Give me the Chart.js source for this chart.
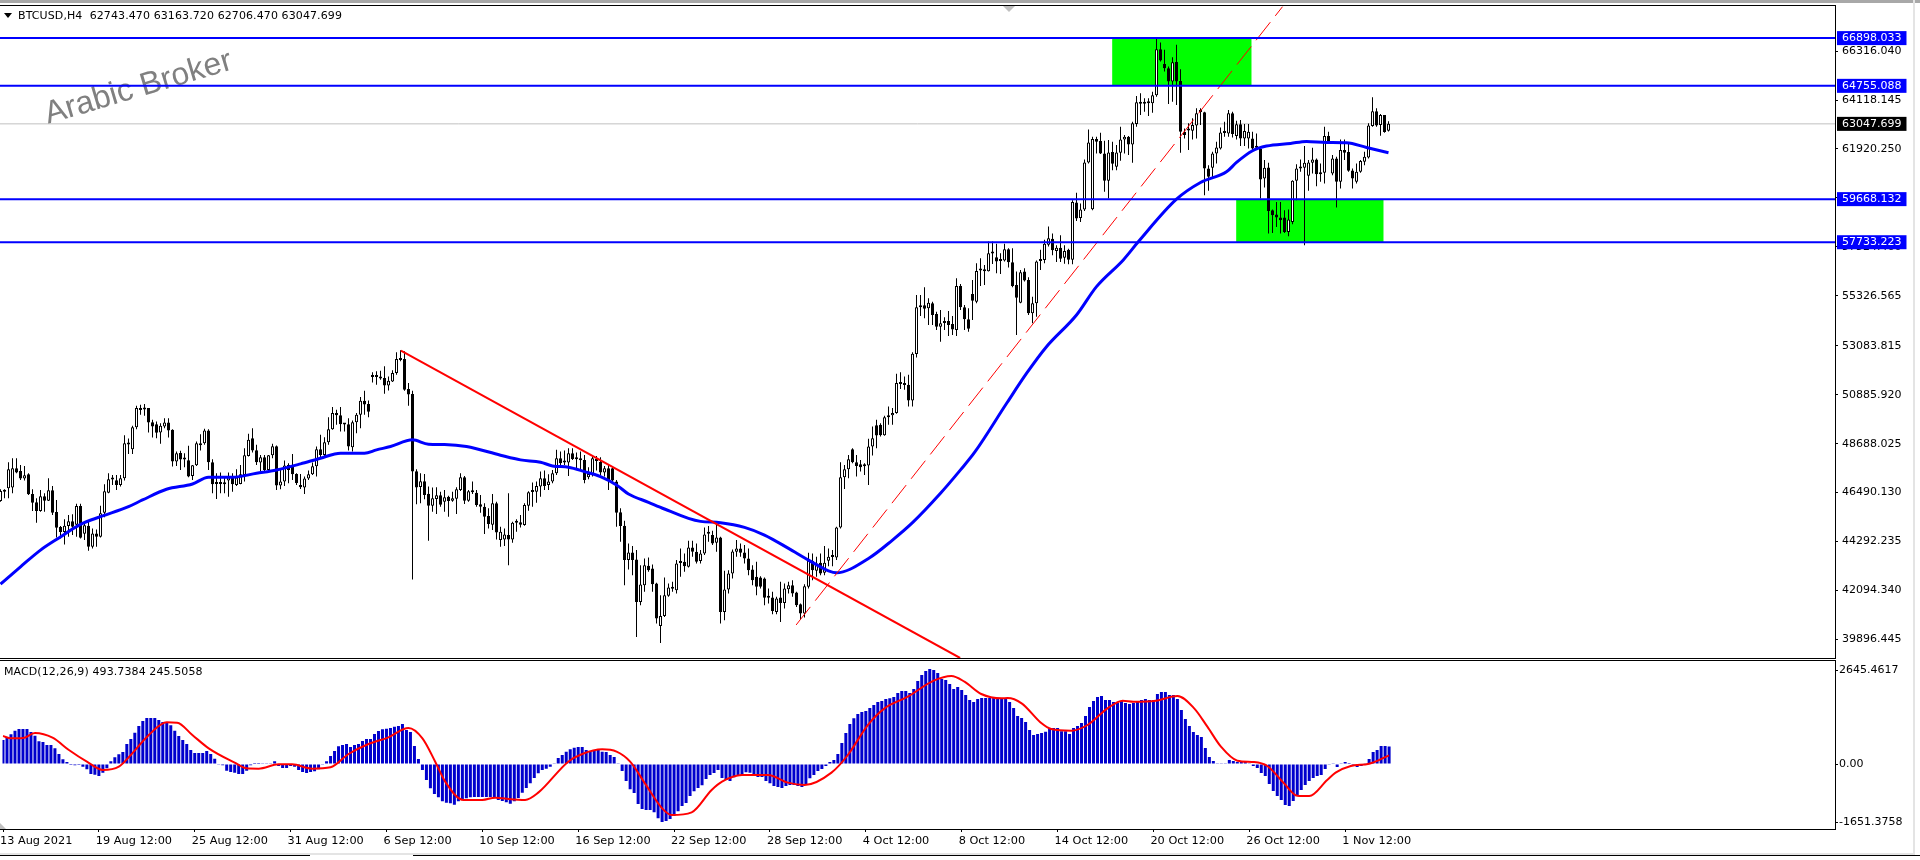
<!DOCTYPE html>
<html>
<head>
<meta charset="utf-8">
<title>BTCUSD,H4</title>
<style>
  html, body { margin: 0; padding: 0; background: #fff; overflow: hidden; }
  body { width: 1920px; height: 860px; position: relative; font-family: "DejaVu Sans", sans-serif; font-size: 11px; color: #000; }
  canvas { position: absolute; left: 0; }
  #mainChart { top: -10px; }
  #macdChart { top: 650px; }
  .label { position: absolute; white-space: pre; line-height: 13px; letter-spacing: 0.1px; }
  .strip { position: absolute; }
</style>
</head>
<body>
<div class="strip" style="left:0;top:0;width:1920px;height:3px;background:#a8a8a8"></div>
<div class="strip" style="left:1913px;top:0;width:2px;height:856px;background:#e4e4e4"></div>
<div class="strip" style="left:0;top:853px;width:1915px;height:2px;background:#e4e4e4"></div>
<div class="strip" style="left:0;top:855px;width:310px;height:1px;background:#000"></div>
<div class="strip" style="left:413px;top:855px;width:1507px;height:1px;background:#000"></div>
<canvas id="mainChart" width="1920" height="680"></canvas>
<canvas id="macdChart" width="1920" height="210"></canvas>
<div class="strip" style="left:1003px;top:6px;border-left:6px solid transparent;border-right:6px solid transparent;border-top:6px solid #c0c0c0"></div>
<div class="strip" style="left:0;top:823px;border-bottom:6px solid #c0c0c0;border-right:6px solid transparent"></div>
<div class="strip" style="left:4px;top:13px;border-left:4px solid transparent;border-right:4px solid transparent;border-top:5px solid #000"></div>
<div class="label" style="left:18px;top:9px">BTCUSD,H4  62743.470 63163.720 62706.470 63047.699</div>
<div class="label" style="left:4px;top:665px">MACD(12,26,9) 493.7384 245.5058</div>

<script src="https://cdn.jsdelivr.net/npm/chart.js@4/dist/chart.umd.js"></script>
<script>
const opens = [
  46115,46535,46685,46715,47585,47465,47120,47315,46430,46055,
  45665,46325,46130,46595,45620,44945,44720,44990,45200,45050,
  45890,44645,45005,44060,44660,44510,45590,46490,47075,47045,
  46835,47135,48650,48440,49430,50285,50225,50285,49655,49565,
  49190,49460,49640,49310,47885,48275,47975,47945,47240,47720,
  48710,48710,49280,47855,46880,46910,46865,47030,47195,46835,
  46880,47285,48140,48935,48395,47840,48080,47510,48170,48575,
  46805,46985,47735,47735,47330,46835,46715,47120,47315,47675,
  48440,48185,48755,49340,50060,49970,49580,49565,48530,49655,
  49985,50615,50465,51680,51680,51650,51635,51305,51485,51860,
  52475,52490,51140,50915,47450,46745,47000,46445,45905,46205,
  46370,46085,46310,46130,46220,46610,47180,46130,46535,46490,
  45965,45860,45440,45050,46010,44360,44390,44585,44390,45140,
  45155,45035,45905,46520,46535,46760,47135,46835,46985,47360,
  48035,47840,47840,48260,48020,47975,47960,47180,47330,47915,
  47870,47390,47585,47585,46985,45605,45005,43460,43805,43490,
  41585,42335,43205,43085,42410,40505,40955,41855,42200,42110,
  43325,43385,43160,44030,43835,43415,43760,44645,44585,44240,
  44480,41135,42140,42860,43835,43985,43805,43535,43040,42710,
  42680,42635,41795,41780,41135,41780,41540,42155,42335,42005,
  41480,41060,42260,43430,42980,43340,42890,43430,43595,43580,
  44930,47180,47540,48440,47855,47765,47705,47705,48560,49520,
  49535,49070,49880,49970,50060,51395,51320,51335,50630,52710,
  54810,54900,54765,54990,54510,53940,54105,54195,54060,53790,
  55770,54810,54270,55410,55065,56460,56520,56430,57225,57060,
  56895,56910,57420,56835,55815,55020,56415,56040,54540,54990,
  56895,56940,57615,57895,57340,57490,57040,57400,56950,59515,
  58825,59200,61315,59215,62365,62275,61720,60490,61780,61120,
  61750,62350,62470,62125,63040,63985,63955,63970,63970,64330,
  66400,65740,65545,64945,65830,64975,62695,62785,62740,62980,
  63580,63565,61045,61075,61720,61945,62635,62620,63520,62500,
  63025,62395,62395,62395,62005,61915,60595,61090,59170,58975,
  58840,58840,58195,58645,60490,61045,61075,60715,61300,61450,
  60865,60850,62500,60820,61495,60445,61870,61780,60955,60445,
  60895,61345,61540,62950,63610,62995,63445,62743.47
];
const highs = [
  46640,46640,47855,48035,48035,47735,47690,47360,46640,46235,
  46610,46460,47135,46790,46160,44990,45290,45485,45515,45995,
  45995,45185,45260,44885,44840,45905,46865,47360,47285,47285,
  47285,49070,48920,49490,50390,50435,50465,50285,49760,49685,
  49610,49835,49835,49340,48335,48365,48260,48590,47735,48785,
  49115,49355,49340,47990,47360,47390,47210,47390,47360,47540,
  47735,48485,49130,49385,48635,48185,48185,48185,48680,48605,
  47540,47930,47810,48230,47360,47330,47210,47480,47840,48560,
  49085,48980,49880,50330,50210,50330,49610,49835,49730,50060,
  50780,51065,50630,51890,51935,51965,52160,51710,51980,52790,
  52880,52835,51410,51065,47540,47360,47330,46760,46715,46730,
  46535,46610,46355,46535,46730,47360,47240,46610,46985,46610,
  46385,46010,45785,46430,46085,44960,44885,46460,45185,45290,
  45485,46010,46550,46940,46985,47435,47480,47315,47510,48410,
  48335,48380,48485,48485,48290,48335,48185,47630,48140,48140,
  48080,47690,47735,47630,47060,45785,45230,44210,44090,43910,
  43235,43535,43580,43265,42440,41885,42680,42410,42485,43460,
  43985,43760,44330,44330,44210,43910,44930,44990,44780,45035,
  44510,42980,43010,43940,44360,44210,44135,43985,43235,43385,
  42740,42680,42185,42035,41810,42485,42410,42485,42560,42035,
  41510,42380,43790,43760,43610,43760,44090,43985,43910,44960,
  47855,47735,48185,48485,48185,47960,47810,48905,49460,49760,
  49610,49940,50360,50285,51830,51890,51710,51785,52790,55365,
  55365,55710,55215,55065,54615,54690,54360,54645,54420,56115,
  55860,54915,54765,56040,56790,57015,56715,57765,57765,57660,
  57240,57660,57465,57465,56415,56490,56565,56160,55290,56910,
  57390,57840,58440,58120,57595,58045,57595,57445,59620,59950,
  59470,61450,62800,62470,62470,62650,62290,62320,62245,62095,
  62920,62545,62500,63145,64300,64420,64195,64195,64495,66895,
  66700,66370,65620,66040,66595,65500,62845,63070,63295,63745,
  63745,63595,61195,61795,62245,62890,63145,63670,63595,63190,
  63220,63040,63040,62695,62620,61915,61420,61300,59200,59545,
  59545,59170,59200,60520,61240,61450,62050,61420,61975,61495,
  61270,62920,62695,61645,61570,62350,62350,62170,61045,61270,
  61420,61795,63070,64240,63745,63490,63445,63163.72
];
const lows = [
  46085,46235,46235,46460,47360,47060,47030,46385,45665,45140,
  45635,45635,46115,45485,44480,44435,44165,44510,44585,44510,
  44435,44360,43880,43985,44060,44480,45380,46460,46835,46610,
  46760,47030,48230,48230,49340,49985,49940,49190,48965,48935,
  48680,49385,48965,47660,47690,47510,47630,47180,47060,47690,
  48380,48635,47510,46460,46205,46460,46460,46310,46535,46790,
  46865,46985,48110,48290,47735,47435,47435,47435,48035,46610,
  46640,46790,46910,47060,46835,46655,46430,47060,47285,47210,
  48080,48140,48635,49310,49535,49235,49235,48380,48335,49160,
  49385,49985,49880,51440,51335,51560,50930,51080,51455,51785,
  52385,51065,50390,42590,45965,46010,46190,44330,45635,45530,
  45860,45635,45410,46085,45530,46565,45980,46085,46430,45860,
  45590,44630,44885,44810,44390,44060,44090,43235,44240,44735,
  44930,45005,45680,45860,46040,46310,46610,46610,46910,47285,
  47735,47735,47240,47960,47510,47480,46910,47090,47210,47480,
  47285,47210,46610,46940,44960,44285,42335,43040,42785,40010,
  41435,42035,42935,42035,40610,39740,40910,41810,42035,41960,
  42710,42935,43130,43610,43310,43310,43685,44285,44135,43835,
  40610,40760,41960,42635,43610,43610,43310,42785,42335,41885,
  42185,41435,41510,41030,41030,40685,41285,41960,41810,41360,
  40790,40880,42185,42560,42710,42785,42785,43190,43190,43460,
  44885,46655,47135,47810,47210,47435,47285,46835,48155,48485,
  49010,49040,49535,49535,50030,51140,51110,50360,50360,52560,
  54420,54315,54015,54015,53790,53265,53790,53520,53565,53520,
  54690,53790,53715,54240,54990,55770,55815,56415,56760,56340,
  56310,56865,56595,55710,53565,54990,55965,54465,54090,54390,
  56490,56790,57540,57145,56845,56845,56770,56740,56740,58690,
  58645,59140,61270,59170,61720,61690,59995,59695,60970,60970,
  61390,61720,61645,61300,62920,63445,63595,63400,63550,64270,
  65845,65395,63940,64045,63895,61750,62395,61870,62350,62395,
  62995,59845,60040,60595,61270,61900,62470,62470,62440,62350,
  62050,62050,61945,61870,61870,59695,60190,58120,58150,58420,
  58120,58150,58000,58540,59620,60895,57595,60040,60820,60250,
  60445,60370,62170,60745,59290,60145,61420,60895,60145,60370,
  60850,61195,61495,62920,62920,62515,62650,62706.47
];
const closes = [
  46565,46565,47540,47585,47390,47120,47270,46415,46040,45665,
  46325,46130,46595,45590,44915,44720,45005,45200,44960,45890,
  44465,45020,44060,44660,44510,45560,46550,47090,47105,46835,
  47135,48710,48695,49430,50285,50195,50255,49640,49460,49175,
  49490,49640,49280,47885,48260,47975,48005,47210,47720,48710,
  48620,49280,47855,46865,46910,46880,46940,47180,46865,47165,
  47315,48170,48860,48380,47855,48080,47510,48170,48575,46805,
  46985,47705,47510,47315,46925,46730,47120,47315,47675,48440,
  48185,48755,49340,50060,49970,49565,49550,48560,49655,49985,
  50615,50450,50120,51710,51710,51620,51305,51515,51860,52490,
  52445,51110,50900,47435,46715,47000,46385,45905,46235,46370,
  45950,46280,46115,46235,46640,47180,46130,46550,46505,45935,
  45860,45410,45080,46010,44705,44735,44615,44390,45140,45170,
  45050,45935,46505,46550,46790,47135,46790,46985,47360,48035,
  47810,47870,48260,48005,47990,47945,47060,47330,48035,47945,
  47390,47585,47060,47030,45590,44990,43460,43805,43460,41585,
  42365,43235,43010,42380,40835,40955,41885,42230,42170,43310,
  43355,43190,44030,43835,43385,43760,44615,44675,44210,44480,
  41135,42140,42860,43850,43985,43790,43535,43010,42560,42260,
  42260,41765,41765,41180,41735,41540,42185,42335,41960,41435,
  41060,42290,43430,43010,43310,42860,43340,43610,43625,44930,
  47180,47540,47990,47855,47690,47630,47675,48560,48935,49055,
  49070,49880,49970,50060,51410,51365,51350,50630,52730,54810,
  54840,54750,55020,54465,53940,54090,54135,54015,53820,55770,
  54810,54270,53850,55110,56445,56520,56430,57240,57255,56865,
  56925,57420,56835,55770,55245,56385,56010,54540,54990,56865,
  56925,57660,57915,57370,57490,56995,57340,56950,59545,58795,
  59200,61315,62215,62365,62245,61720,60490,61765,61255,61765,
  62350,62470,62125,63070,64015,63955,63985,64000,64330,66400,
  65890,65545,64945,65815,64945,62695,62545,62755,62995,63520,
  63610,61045,60670,61720,61990,62665,62665,63520,62590,63025,
  62395,62725,62695,61945,61975,60550,61075,59140,58945,58840,
  58720,58195,58750,60490,61045,61075,61300,61315,61450,60790,
  60790,62500,62245,61495,60445,61870,61750,60940,60595,60895,
  61375,61570,62980,63610,62980,63445,62680,63047.699
];

// moving average at these bars
const maBars = [0,5,10,14.4,20,25,32,35.5,41.5,48,52,58,64,69,75,80,85,91,94,97.5,103,107,111,116.5,125,130,135,138,142,146,150,154,157,162,166,172,175,180,186,191,197,202,207,209,217,223,228,235,240,243.6,251.5,256.5,261.5,269,274,280.7,284.5,294,300,306.5,309,313,316.5,322.5,326.5,331.5,336.5,341.5,347];
const maValues = [42380,43160,43910,44435,45065,45410,45860,46160,46640,46880,47180,47180,47360,47510,47780,48035,48260,48260,48410,48560,48860,48665,48650,48560,48170,47960,47855,47690,47630,47435,47210,46835,46430,46055,45755,45335,45200,45140,44930,44585,43985,43460,42980,42890,43535,44360,45140,46460,47510,48315,50490,51840,53040,54465,55740,56940,57765,59665,60415,60895,61315,61840,62050,62170,62260,62215,62200,61990,61750];

const macdHist = [
  677,743,837,940,987,987,987,902,799,639,
  620,536,536,442,282,132,56,-28,-38,-28,
  -75,-150,-282,-301,-338,-244,-122,75,188,273,
  338,564,705,884,1072,1213,1297,1297,1297,1241,
  1184,1184,1090,940,790,677,564,395,310,310,
  310,367,282,150,-9,-38,-188,-226,-244,-282,
  -282,-188,-38,28,28,19,5,19,75,-56,
  -113,-113,-56,-75,-169,-226,-254,-226,-207,-150,
  -19,75,226,367,498,536,564,479,536,564,
  649,705,705,846,931,978,996,1015,1053,1072,
  1128,959,902,508,141,-169,-451,-686,-846,-940,
  -1053,-1090,-1109,-1147,-1053,-1015,-968,-940,-931,-931,
  -931,-931,-931,-959,-1015,-1043,-1081,-1119,-1053,-959,
  -808,-677,-545,-395,-263,-169,-132,-75,19,169,
  254,348,414,461,479,479,395,367,376,404,
  348,338,254,197,19,-197,-479,-714,-818,-1128,
  -1269,-1297,-1297,-1363,-1532,-1636,-1607,-1551,-1466,-1335,
  -1184,-1100,-902,-771,-677,-602,-423,-310,-254,-169,
  -395,-451,-479,-376,-320,-310,-235,-244,-301,-367,
  -367,-479,-545,-620,-649,-677,-620,-592,-592,-620,
  -649,-583,-404,-310,-197,-141,-56,56,113,282,
  592,874,1128,1288,1410,1466,1495,1579,1664,1748,
  1777,1833,1852,1889,2002,2059,2059,2002,2115,2341,
  2510,2623,2679,2651,2566,2397,2369,2256,2115,2171,
  2087,1946,1805,1748,1833,1861,1861,1861,1861,1861,
  1861,1861,1748,1579,1354,1297,1184,959,818,846,
  874,912,1015,1015,1015,921,921,846,1015,1072,
  1156,1354,1607,1777,1889,1918,1805,1805,1748,1720,
  1777,1720,1692,1720,1777,1805,1833,1805,1805,1974,
  2030,2030,1946,1946,1833,1523,1269,1072,902,818,
  761,451,197,85,19,19,19,113,85,56,
  56,56,19,-56,-113,-254,-338,-564,-761,-902,
  -1015,-1156,-1184,-1043,-874,-733,-592,-479,-395,-338,
  -310,-141,-19,9,-85,19,56,28,-38,-85,
  -56,9,141,338,395,508,508,493.7384
];
const signalBars = [0,2,5,8,12.4,16.5,21,25,29,32,36.5,41,43.6,47.4,51.5,58,61,64,69,72.4,77.4,82,86.5,91.5,96.5,101.5,105,108.2,110.7,115.3,120,123.2,125,130.7,134,141.5,145,150,153.6,157,160.7,165,167.4,172.4,177.4,180,185,191.5,196.5,200.7,207.4,211.5,216.5,220.7,226.5,233,237.4,240.7,244.9,250,251.5,255,260,262.4,267.4,271.5,276.5,280.3,283,288.6,294,298.2,301.5,304.9,309,313.2,316.5,320.7,324,327,331.5,333.6,337.4,342,347];
const signalValues = [790,724,733,874,743,395,66,-169,-75,254,818,1175,1166,818,442,38,-122,-132,-9,-9,-132,-94,282,564,752,1015,724,66,-498,-1015,-1015,-949,-968,-1015,-808,66,282,414,348,66,-545,-1250,-1438,-1363,-733,-498,-310,-310,-526,-592,-244,254,1100,1570,1899,2350,2482,2322,1974,1852,1861,1711,1147,987,940,1100,1570,1786,1758,1786,1918,1570,1053,489,94,56,-56,-545,-893,-902,-451,-244,-56,9,245.5058];

const priceTicks = [39896.445,42094.34,44292.235,46490.13,48688.025,50885.92,53083.815,55326.565,57524.46,59722.355,61920.25,64118.145,66316.04];
const levelPrices = [66898.033,64755.088,59668.132,57733.223];
const lastPrice = 63047.699;
const macdTicks = [2645.4617,0,-1651.3758];

const dateTickBars = [0,24,48,72,96,120,144,168,192,216,240,264,288,312,336];
const dateTickLabels = ["13 Aug 2021","19 Aug 12:00","25 Aug 12:00","31 Aug 12:00","6 Sep 12:00","10 Sep 12:00","16 Sep 12:00","22 Sep 12:00","28 Sep 12:00","4 Oct 12:00","8 Oct 12:00","14 Oct 12:00","20 Oct 12:00","26 Oct 12:00","1 Nov 12:00"];

const zoneBars = [[277.9,312.8],[308.9,345.8]];
const zonePrices = [[66898.033,64755.088],[59668.132,57733.223]];
const trendBars = [100.1,239.9];
const trendPrices = [52863,39065];
const channelBars = [198.9,320.5];
const channelPrices = [40547,68309];

const FONT = { family: '"DejaVu Sans", sans-serif', size: 11, lineHeight: 1 };
const X_MIN = -0.125;
const X_MAX = 458.625;

function flatLine(price, color, width, order) {
  return {
    type: "line",
    data: [{ x: X_MIN, y: price }, { x: X_MAX, y: price }],
    borderColor: color,
    borderWidth: width,
    pointRadius: 0,
    order: order,
  };
}

function pairLine(xs, ys, color, width, order, dash, smooth) {
  return {
    type: "line",
    data: xs.map((x, i) => ({ x: x, y: ys[i] })),
    borderColor: color,
    borderWidth: width,
    borderDash: dash || [],
    pointRadius: 0,
    cubicInterpolationMode: smooth ? "monotone" : "default",
    order: order,
  };
}

function zoneDataset(i) {
  return {
    type: "line",
    data: zoneBars[i].map((x) => ({ x: x, y: zonePrices[i][0] })),
    borderWidth: 0,
    pointRadius: 0,
    backgroundColor: "#00ff00",
    fill: { value: zonePrices[i][1] },
    order: 20,
  };
}

// frame round the plot area, the terminal draws it on each window
const framePlugin = {
  id: "frame",
  afterDraw(chart) {
    const a = chart.chartArea;
    const c = chart.ctx;
    c.save();
    c.strokeStyle = "#000";
    c.lineWidth = 1;
    c.strokeRect(-2, a.top - 0.5, a.right + 2.5, a.bottom - a.top + 1);
    c.restore();
  },
};

// canvas starts 10px above the page, hence 134 and not 124
const watermarkPlugin = {
  id: "watermark",
  beforeDatasetsDraw(chart) {
    const c = chart.ctx;
    c.save();
    c.translate(48, 134);
    c.rotate((-16.5 * Math.PI) / 180);
    c.font = '32px "Liberation Sans", sans-serif';
    c.fillStyle = "#808080";
    c.fillText("Arabic Broker", 0, 0);
    c.restore();
  },
};

const isLevel = (v) => levelPrices.includes(v);

new Chart(document.getElementById("mainChart"), {
  data: {
    datasets: [
      zoneDataset(0),
      zoneDataset(1),
      flatLine(lastPrice, "#c0c0c0", 1, 19),
      {
        type: "bar",
        data: highs.map((h, i) => ({ x: i, y: [lows[i], h] })),
        backgroundColor: "#000",
        barThickness: 1,
        grouped: false,
        inflateAmount: 0,
        order: 18,
      },
      {
        type: "bar",
        data: opens.map((o, i) => ({ x: i, y: [Math.min(o, closes[i]), Math.max(o, closes[i])] })),
        backgroundColor: opens.map((o, i) => (closes[i] >= o ? "#fff" : "#000")),
        borderColor: "#000",
        borderWidth: 1,
        borderSkipped: false,
        barThickness: 3,
        minBarLength: 2,
        grouped: false,
        inflateAmount: 0,
        order: 17,
      },
      pairLine(maBars, maValues, "#0000ff", 3, 16, null, true),
      pairLine(channelBars, channelPrices, "#ff0000", 1, 15, [23, 8]),
      pairLine(trendBars, trendPrices, "#ff0000", 2, 14),
      ...levelPrices.map((p) => flatLine(p, "#0000ff", 2, 13)),
    ],
  },
  options: {
    responsive: false,
    animation: false,
    devicePixelRatio: 1,
    events: [],
    layout: { padding: { top: 16, bottom: 12, left: 0, right: 0 } },
    plugins: { legend: { display: false }, tooltip: { enabled: false } },
    scales: {
      x: { type: "linear", min: X_MIN, max: X_MAX, offset: false, display: false },
      y: {
        type: "linear",
        position: "right",
        min: 39065,
        max: 68340,
        afterFit(scale) {
          scale.width = 85;
        },
        afterBuildTicks(scale) {
          scale.ticks = priceTicks
            .concat([lastPrice], levelPrices)
            .map((v) => ({ value: v }));
        },
        border: { color: "#000" },
        grid: {
          drawOnChartArea: false,
          tickLength: 3,
          tickColor: (ctx) => (isLevel(ctx.tick.value) || ctx.tick.value === lastPrice ? "transparent" : "#000"),
        },
        ticks: {
          autoSkip: false,
          font: FONT,
          padding: 4,
          crossAlign: "near",
          color: (ctx) => (isLevel(ctx.tick.value) || ctx.tick.value === lastPrice ? "#fff" : "#000"),
          showLabelBackdrop: (ctx) => isLevel(ctx.tick.value) || ctx.tick.value === lastPrice,
          backdropColor: (ctx) => (ctx.tick.value === lastPrice ? "#000" : "#0000ff"),
          backdropPadding: { top: 1.5, bottom: 1.5, left: 5, right: 5 },
          callback: (v) => v.toFixed(3),
        },
      },
    },
  },
  plugins: [watermarkPlugin, framePlugin],
});

new Chart(document.getElementById("macdChart"), {
  data: {
    datasets: [
      {
        type: "bar",
        data: macdHist.map((v, i) => ({ x: i, y: v })),
        backgroundColor: "#0000cd",
        barThickness: 3,
        grouped: false,
        inflateAmount: 0,
        order: 2,
      },
      pairLine(signalBars, signalValues, "#ff0000", 2, 1, null, true),
    ],
  },
  options: {
    responsive: false,
    animation: false,
    devicePixelRatio: 1,
    events: [],
    layout: { padding: { top: 11, bottom: 0, left: 0, right: 0 } },
    plugins: { legend: { display: false }, tooltip: { enabled: false } },
    scales: {
      x: {
        type: "linear",
        min: X_MIN,
        max: X_MAX,
        offset: false,
        afterFit(scale) {
          scale.height = 31;
        },
        afterBuildTicks(scale) {
          scale.ticks = dateTickBars.map((v) => ({ value: v }));
        },
        border: { color: "#000" },
        grid: { drawOnChartArea: false, offset: false, tickLength: 3, tickColor: "#000" },
        ticks: {
          autoSkip: false,
          maxRotation: 0,
          align: "start",
          labelOffset: -3,
          font: { family: FONT.family, size: 11.3, lineHeight: 1 },
          color: "#000",
          padding: 3,
          callback: (v) => dateTickLabels[dateTickBars.indexOf(v)],
        },
      },
      y: {
        type: "linear",
        position: "right",
        min: -1833,
        max: 2905,
        afterFit(scale) {
          scale.width = 85;
        },
        afterBuildTicks(scale) {
          scale.ticks = macdTicks.map((v) => ({ value: v }));
        },
        border: { color: "#000" },
        grid: { drawOnChartArea: false, tickLength: 3, tickColor: "#000" },
        ticks: {
          autoSkip: false,
          font: FONT,
          padding: 1,
          crossAlign: "near",
          color: "#000",
          callback: (v) => (v === 0 ? "0.00" : v.toFixed(4)),
        },
      },
    },
  },
  plugins: [framePlugin],
});
</script>
</body>
</html>
